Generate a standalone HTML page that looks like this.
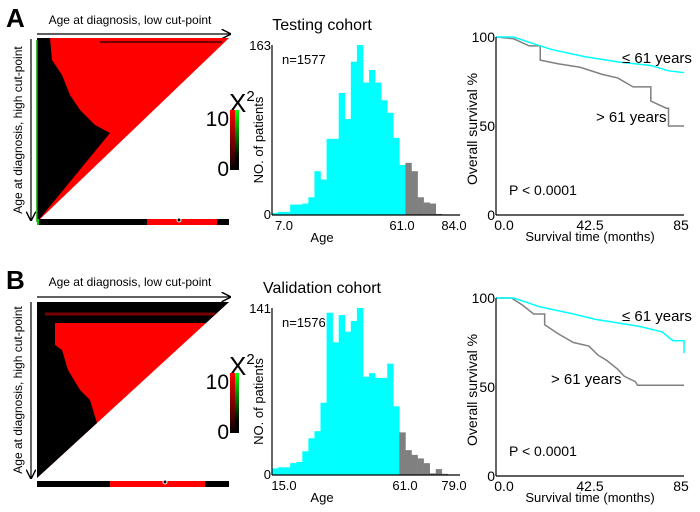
<!DOCTYPE html>
<html><head><meta charset="utf-8"><style>
body{margin:0;background:#fff;width:700px;height:507px;overflow:hidden}
svg text{font-family:"Liberation Sans",Arial,sans-serif}
</style></head><body>
<svg id="s" width="700" height="507">
<defs>
<linearGradient id="gr" x1="0" y1="0" x2="0" y2="1"><stop offset="0" stop-color="#f00"/><stop offset="1" stop-color="#000"/></linearGradient>
<linearGradient id="gg" x1="0" y1="0" x2="0" y2="1"><stop offset="0" stop-color="#0f0"/><stop offset="0.8" stop-color="#000"/></linearGradient>
<marker id="ar" markerWidth="8" markerHeight="8" refX="7" refY="4" orient="auto"><path d="M0,0 L8,4 L0,8" fill="none" stroke="#000" stroke-width="1.2"/></marker>
</defs>
<g>
<text x="6" y="27" font-size="26" font-weight="bold">A</text>
<text x="130" y="24" font-size="12" text-anchor="middle">Age at diagnosis, low cut-point</text>
<line x1="37" y1="34" x2="230" y2="34" stroke="#000" stroke-width="1.2" marker-end="url(#ar)"/>
<line x1="31" y1="39" x2="31" y2="220" stroke="#000" stroke-width="1.2" marker-end="url(#ar)"/>
<text transform="translate(22,130) rotate(-90)" font-size="12" text-anchor="middle">Age at diagnosis, high cut-point</text>
<polygon points="37,38 229,38 37,222" fill="#f00"/>
<polygon points="37,38 50,38 52,60 62,75 70,95 80,110 95,125 110,133 37,222" fill="#000"/>
<line x1="100" y1="42" x2="222" y2="42" stroke="#400" stroke-width="1.5"/>
<line x1="37" y1="40" x2="37" y2="222" stroke="#0a0" stroke-width="1.5"/>
<rect x="37" y="219" width="192" height="6" fill="#000"/>
<rect x="147" y="219" width="70" height="6" fill="#f00"/>
<rect x="37" y="219" width="2" height="6" fill="#0c0"/>
<circle cx="179" cy="220" r="2" fill="#000" stroke="#fff" stroke-width="1"/>
<text x="229" y="112" font-size="26">X<tspan font-size="15" dy="-11">2</tspan></text>
<rect x="230" y="110" width="5" height="60" fill="url(#gr)"/><rect x="235" y="110" width="4" height="60" fill="url(#gg)"/>
<text x="229" y="126" font-size="21" text-anchor="end">10</text>
<text x="229" y="176" font-size="21" text-anchor="end">0</text>
</g>
<g>
<text x="6" y="289" font-size="26" font-weight="bold">B</text>
<text x="130" y="286" font-size="12" text-anchor="middle">Age at diagnosis, low cut-point</text>
<line x1="37" y1="297" x2="230" y2="297" stroke="#000" stroke-width="1.2" marker-end="url(#ar)"/>
<line x1="31" y1="302" x2="31" y2="478" stroke="#000" stroke-width="1.2" marker-end="url(#ar)"/>
<text transform="translate(22,390) rotate(-90)" font-size="12" text-anchor="middle">Age at diagnosis, high cut-point</text>
<polygon points="37,302 229,302 37,478" fill="#f00"/>
<polygon points="37,302 229,302 206,323 55,323 55,345 62,350 68,370 80,390 90,400 97,423 37,478" fill="#000"/>
<line x1="45" y1="314" x2="215" y2="314" stroke="#700" stroke-width="3"/>
<rect x="37" y="481" width="192" height="6" fill="#000"/>
<rect x="110" y="481" width="95" height="6" fill="#f00"/>
<circle cx="165" cy="482" r="2" fill="#000" stroke="#fff" stroke-width="1"/>
<text x="229" y="375" font-size="26">X<tspan font-size="15" dy="-11">2</tspan></text>
<rect x="230" y="373" width="5" height="60" fill="url(#gr)"/><rect x="235" y="373" width="4" height="60" fill="url(#gg)"/>
<text x="229" y="389" font-size="21" text-anchor="end">10</text>
<text x="229" y="439" font-size="21" text-anchor="end">0</text>
</g>
<g id="charts"></g>
</svg>
<script>
const histA=[2,3,3,10,10,11,17,42,34,73,73,117,92,147,163,127,139,127,110,98,74,48,50,42,17,12,11,1,0.5,0.5,0.5];
const splitA=22;
const histB=[5.6,6.5,6.5,10,11,20,31,37,61,137,112,135,121,130,141,83,86,82,82,94,58,36,21,17,14,10,1.4,5,1];
const splitB=21;
const kmAcyanT=[0,8,15,25,40,55,70,78,85], kmAcyanS=[100,100,97,93,89,86,84,81,80];
const kmAgrayT=[0,8,15,20,28,38,48,55,62,70,77,78,85], kmAgrayS=[100,99,95,87,85,83,79,77,72,64,60,50,50];
const kmBcyanT=[0,8,20,35,45,55,65,75,80,84,85], kmBcyanS=[100,100,95,91,88,86,84,81,76,76,69];
const kmBgrayT=[0,7,12,17,22,28,35,42,46,50,55,58,63,64,85], kmBgrayS=[100,100,96,91,85,80,75,73,68,65,60,56,53,51,51];
const NS="http://www.w3.org/2000/svg", G=document.getElementById('charts');
function el(t,a,txt){const e=document.createElementNS(NS,t);for(const k in a)e.setAttribute(k,a[k]);if(txt!==undefined)e.textContent=txt;G.appendChild(e);return e;}
function hist(data,split,top,base,maxv,ticks,tickX,n,title){
  const x0=272,x1=460,bw=(x1-x0)/31;
  const t=el('text',{x:322,y:top-15,'font-size':16,'text-anchor':'middle'},title);
  
  
  data.forEach((v,i)=>{const h=v/maxv*(base-top);
    const r=el('rect',{x:x0+i*bw,y:base-h,width:bw+0.3,height:h,fill:i<split?'#00ffff':'#808080'});
    
    });
  el('line',{x1:x0,y1:top,x2:x0,y2:base,stroke:'#000','stroke-width':1.2});
  el('line',{x1:x0,y1:base,x2:x1,y2:base,stroke:'#000','stroke-width':1.2});
  el('text',{x:x0-1,y:top+5,'font-size':13,'text-anchor':'end'},String(maxv));
  el('text',{x:x0-1,y:base+4,'font-size':13,'text-anchor':'end'},'0');
  ticks.forEach((tk,i)=>el('text',{x:tickX[i],y:base+15,'font-size':13,'text-anchor':'middle'},tk));
  el('text',{x:322,y:base+27,'font-size':13,'text-anchor':'middle'},'Age');
  const yl=el('text',{transform:`translate(263,${(top+base)/2+10}) rotate(-90)`,'font-size':13,'text-anchor':'middle'},'NO. of patients');
  
  
  el('text',{x:282,y:top+19,'font-size':13},n);
}
hist(histA,splitA,45,215,163,['7.0','61.0','84.0'],[284,402,454],'n=1577','Testing cohort');
hist(histB,splitB,308,475,141,['15.0','61.0','79.0'],[284,405,454],'n=1576','Validation cohort');
function km(top,base,series,l1,l2){
  const x0=496,x1=684,sx=t=>x0+t/85*(x1-x0),sy=s=>base-s/100*(base-top);
  series.forEach(([T,S,c])=>{let d=`M${sx(T[0])},${sy(S[0])}`;
    for(let i=1;i<T.length;i++){const big=S[i-1]-S[i]>=6;
      if(big) d+=` L${sx(T[i])},${sy(S[i-1])}`;
      d+=` L${sx(T[i])},${sy(S[i])}`;}
    const p=el('path',{d:d,fill:'none',stroke:c,'stroke-width':1.5});
    
    });
  el('line',{x1:x0,y1:top,x2:x0,y2:base,stroke:'#000','stroke-width':1.2});
  el('line',{x1:x0,y1:base,x2:x1,y2:base,stroke:'#000','stroke-width':1.2});
  [[100,'100'],[50,'50'],[0,'0']].forEach(([v,s])=>el('text',{x:x0-1,y:sy(v)+5,'font-size':14,'text-anchor':'end'},s));
  [[0,'0.0'],[42.5,'42.5'],[85,'85']].forEach(([v,s])=>el('text',{x:sx(v)+(v==0?8:v==85?-3:0),y:base+15,'font-size':14,'text-anchor':'middle'},s));
  el('text',{x:590,y:base+26,'font-size':13,'text-anchor':'middle'},'Survival time (months)');
  const yl=el('text',{transform:`translate(477,${(top+base)/2+3}) rotate(-90)`,'font-size':14,'text-anchor':'middle'},'Overall survival %');
  
  
  el('text',{x:622,y:l1,'font-size':15},'≤ 61 years');
  el('text',{x:l2[0],y:l2[1],'font-size':15},'> 61 years');
  el('text',{x:509,y:base-20,'font-size':14},'P < 0.0001');
}
km(37,215,[[kmAgrayT,kmAgrayS,'#808080'],[kmAcyanT,kmAcyanS,'#00ffff']],63,[596,122]);
km(298,476,[[kmBgrayT,kmBgrayS,'#808080'],[kmBcyanT,kmBcyanS,'#00ffff']],321,[551,384]);
</script>
</body></html>
